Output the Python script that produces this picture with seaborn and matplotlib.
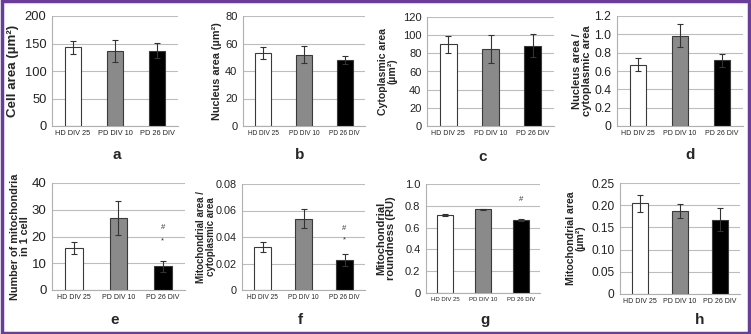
import numpy as np
import pandas as pd
import matplotlib
matplotlib.use("Agg")
import matplotlib.pyplot as plt
import seaborn as sns

groups = ["HD DIV 25", "PD DIV 10", "PD 26 DIV"]
bar_colors = ["#ffffff", "#8a8a8a", "#000000"]

# panel letter, y label, means, errors, y ticks, y tick labels, marks over PD 26 DIV
panels = {
    "a": ("Cell area (µm²)", [143, 137, 137], [12, 20, 14],
          [0, 50, 100, 150, 200], ["0", "50", "100", "150", "200"], []),
    "b": ("Nucleus area (µm²)", [52.8, 51.8, 47.8], [4.3, 6.2, 3.0],
          [0, 20, 40, 60, 80], ["0", "20", "40", "60", "80"], []),
    "c": ("Cytoplasmic area\n(µm²)", [90.2, 84.8, 88.5], [9.4, 15.8, 13.0],
          [0, 20, 40, 60, 80, 100, 120], ["0", "20", "40", "60", "80", "100", "120"], []),
    "d": ("Nucleus area /\ncytoplasmic area", [0.67, 0.985, 0.715], [0.075, 0.128, 0.074],
          [0, 0.2, 0.4, 0.6, 0.8, 1.0, 1.2], ["0", "0.2", "0.4", "0.6", "0.8", "1.0", "1.2"], []),
    "e": ("Number of mitochondria\nin 1 cell", [15.7, 27.0, 8.9], [2.3, 6.4, 2.0],
          [0, 10, 20, 30, 40], ["0", "10", "20", "30", "40"], [("*", 18.3), ("#", 23.2)]),
    "f": ("Mitochondrial area /\ncytoplasmic area", [0.0327, 0.0537, 0.0227], [0.0038, 0.0072, 0.0045],
          [0, 0.02, 0.04, 0.06, 0.08], ["0", "0.02", "0.04", "0.06", "0.08"], [("*", 0.0375), ("#", 0.0465)]),
    "g": ("Mitochondrial\nroundness (RU)", [0.715, 0.767, 0.668], [0.010, 0.006, 0.008],
          [0, 0.2, 0.4, 0.6, 0.8, 1.0], ["0", "0.2", "0.4", "0.6", "0.8", "1.0"], [("#", 0.86)]),
    "h": ("Mitochondrial area\n(µm²)", [0.204, 0.187, 0.167], [0.020, 0.016, 0.026],
          [0, 0.05, 0.10, 0.15, 0.20, 0.25], ["0", "0.05", "0.10", "0.15", "0.20", "0.25"], []),
}

# layout per panel: axes box in pixels (left, top, right, bottom), y label centre x,
# letter x, y, y label size, y tick size, x tick size
W, H = 751, 334
boxes = {
    "a": (52, 16, 178, 126, 13, 117, 155, 9.6, 9.3, 5.3),
    "b": (243, 16, 365, 126, 217, 300, 155, 7.8, 8.0, 4.7),
    "c": (427, 17, 554, 126, 388, 483, 157, 7.6, 8.0, 5.0),
    "d": (617, 16, 743, 126, 582, 690, 155, 8.0, 8.7, 5.0),
    "e": (52, 183, 185, 290, 20, 115, 320, 7.8, 9.5, 5.0),
    "f": (242, 184, 365, 290, 206, 300, 320, 7.0, 7.8, 4.7),
    "g": (426, 184, 540, 293, 386, 485, 320, 8.0, 8.0, 4.3),
    "h": (620, 183, 740, 294, 576, 700, 320, 7.6, 8.6, 5.0),
}

sns.set_style("white")
plt.rcParams["font.family"] = ["Liberation Sans", "DejaVu Sans"]

fig = plt.figure(figsize=(W / 100, H / 100), dpi=100)

for key, (ylabel, means, errs, yt, ytl, marks) in panels.items():
    l, t, r, b, lx, px, py, lab_fs, yt_fs, xt_fs = boxes[key]
    ax = fig.add_axes([l / W, 1 - b / H, (r - l) / W, (b - t) / H])
    df = pd.DataFrame({"group": groups, "value": means})
    sns.barplot(data=df, x="group", y="value", hue="group", palette=bar_colors,
                legend=False, width=0.4, errorbar=None, ax=ax,
                edgecolor="#3a3a3a", linewidth=0.8)
    ax.errorbar(range(3), means, yerr=errs, fmt="none", ecolor="#333333",
                elinewidth=0.8, capsize=2.5, capthick=0.8)
    for sym, yv in marks:
        ax.text(2, yv, sym, ha="center", va="center", fontsize=5.5, color="#333333")

    ax.set_xlim(-0.5, 2.5)
    ax.set_ylim(yt[0], yt[-1])
    ax.set_yticks(yt)
    ax.set_yticklabels(ytl, fontsize=yt_fs, color="#222222")
    ax.set_xticks(range(3))
    ax.set_xticklabels(groups, fontsize=xt_fs, color="#222222")
    ax.set_xticks([-0.5, 0.5, 1.5, 2.5], minor=True)
    ax.tick_params(axis="x", which="major", length=0, pad=3)
    ax.tick_params(axis="x", which="minor", length=3, color="#b0b0b0", width=0.8)
    ax.tick_params(axis="y", length=3, color="#b0b0b0", width=0.8, pad=1)
    ax.yaxis.grid(True, color="#bdbdbd", linewidth=0.8)
    ax.set_axisbelow(True)
    for s in ["top", "right"]:
        ax.spines[s].set_visible(False)
    for s in ["left", "bottom"]:
        ax.spines[s].set_color("#b0b0b0")
        ax.spines[s].set_linewidth(0.8)

    ax.set_xlabel("")
    ax.set_ylabel(ylabel, fontsize=lab_fs, fontweight="bold", va="center",
                  linespacing=1.0)
    ax.yaxis.set_label_coords((lx - l) / (r - l), 0.5)

    fig.text(px / W, 1 - py / H, key, ha="center", va="center",
             fontsize=11, fontweight="bold")

# purple frame round the figure
fig.patches.append(plt.Rectangle((0.002, 0.004), 0.996, 0.992, transform=fig.transFigure,
                                 fill=False, edgecolor="#6a3d9a", linewidth=2.5))

fig.savefig("out.png", dpi=100)
